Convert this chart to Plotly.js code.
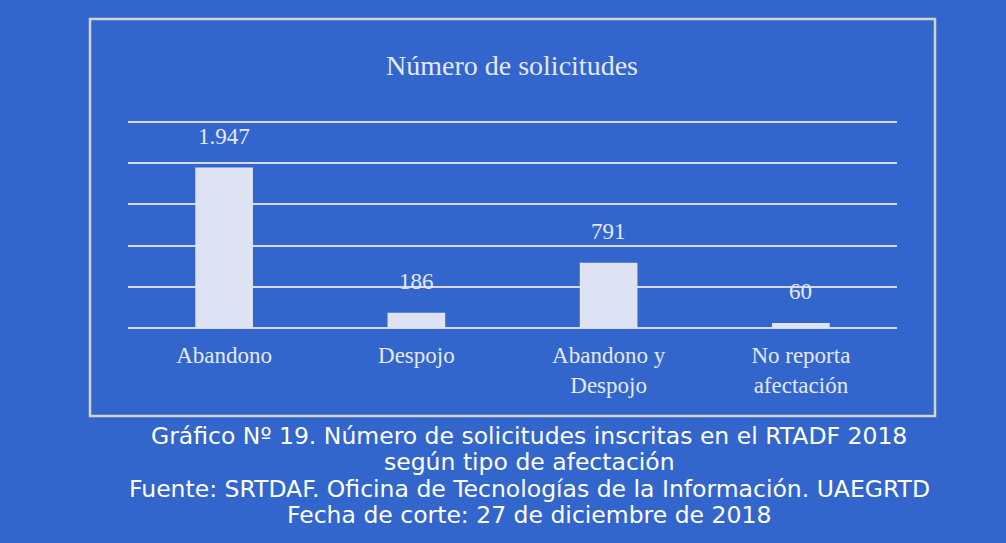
<!DOCTYPE html>
<html>
<head>
<meta charset="utf-8">
<script src="https://cdn.plot.ly/plotly-3.0.1.min.js"></script>
<style>
html,body{margin:0;padding:0;background:#3366CC;}
#chart{width:1006px;height:543px;}
</style>
</head>
<body>
<div id="chart"></div>
<script>
const categories = ["Abandono", "Despojo", "Abandono y<br>Despojo", "No reporta<br>afectación"];
const values = [1947, 186, 791, 60];
const gridTicks = [0, 500, 1000, 1500, 2000, 2500];
const chartTitle = "Número de solicitudes";
const captionLines = [
  "Gráfico Nº 19. Número de solicitudes inscritas en el RTADF 2018",
  "según tipo de afectación",
  "Fuente: SRTDAF. Oficina de Tecnologías de la Información. UAEGRTD",
  "Fecha de corte: 27 de diciembre de 2018"
];

function fmt(v){ return String(v).replace(/\B(?=(\d{3})+(?!\d))/g, "."); }

const serif = "Liberation Serif, Times New Roman, serif";
const textCol = "#E4E9F6";

const annotations = categories.map((c, i) => ({
  x: c, y: values[i], xref: "x", yref: "y",
  text: fmt(values[i]), showarrow: false,
  yanchor: "bottom", yshift: 17,
  font: {family: serif, size: 23, color: textCol}
}));

const YMAX = 2560;
const BASE = 328;
const PH = 206 * YMAX / 2500;
const PT = BASE - PH;
const capY0 = 436, capStep = 26.3;
captionLines.forEach((t, i) => {
  annotations.push({
    x: (529 - 128) / 769, xref: "paper",
    y: (BASE - (capY0 + i * capStep)) / PH, yref: "paper",
    text: t, showarrow: false, xanchor: "center", yanchor: "middle",
    font: {family: "DejaVu Sans, sans-serif", size: 23.5, color: "#FFFFFF"}
  });
});

const trace = {
  type: "bar", x: categories, y: values,
  marker: {color: "#DDE3F3", line: {width: 0}},
  width: 0.3, hoverinfo: "skip"
};

const layout = {
  width: 1006, height: 543,
  paper_bgcolor: "#3366CC", plot_bgcolor: "rgba(0,0,0,0)",
  margin: {l: 128, r: 109, t: PT, b: 543 - BASE},
  showlegend: false,
  title: {text: chartTitle, x: 512/1006, xanchor: "center", y: 1 - 65/543, yanchor: "middle", yref: "container",
          font: {family: serif, size: 28, color: textCol}},
  xaxis: {
    type: "category", showgrid: false, zeroline: false, showline: false, ticks: "",
    tickfont: {family: serif, size: 23, color: textCol}, ticklabelstandoff: 11,
    fixedrange: true
  },
  yaxis: {
    range: [0, YMAX], tickvals: gridTicks, showticklabels: false,
    showgrid: true, gridcolor: "#D6DAE6", gridwidth: 2,
    zeroline: true, zerolinecolor: "#D6DAE6", zerolinewidth: 2,
    showline: false, ticks: "", fixedrange: true
  },
  shapes: [{
    type: "rect", xref: "paper", yref: "paper",
    x0: (90 - 128) / 769, x1: (935 - 128) / 769,
    y0: (BASE - 416) / PH, y1: (BASE - 19) / PH,
    line: {color: "#D3D3D3", width: 2.5}, fillcolor: "rgba(0,0,0,0)", layer: "below"
  }],
  annotations: annotations
};

Plotly.newPlot("chart", [trace], layout, {displayModeBar: false, staticPlot: true});
</script>
</body>
</html>
